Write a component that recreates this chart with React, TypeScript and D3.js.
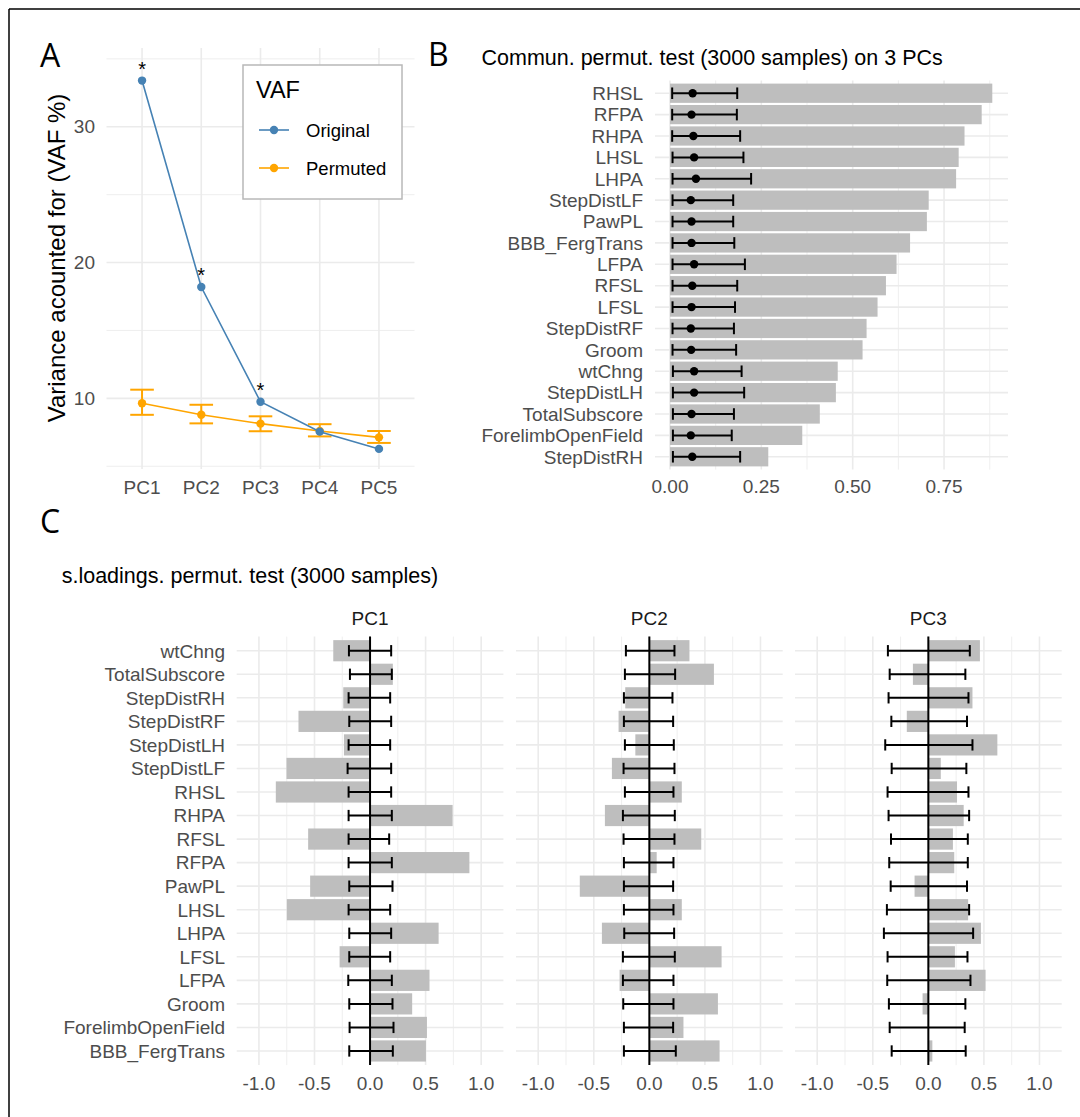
import React from "react";
import * as d3 from "d3";

// ---- panel A: variance accounted for ----
const pcs = ["PC1", "PC2", "PC3", "PC4", "PC5"];
const vafOriginal = [33.4, 18.2, 9.75, 7.55, 6.28];
const vafPermuted = [9.64, 8.8, 8.14, 7.6, 7.13];
const vafPermLow = [8.79, 8.16, 7.58, 7.2, 6.72];
const vafPermHigh = [10.64, 9.53, 8.68, 8.1, 7.6];
const vafSignif = [true, true, true, false, false];
const vafMajor = [10, 20, 30];
const vafMinor = [5, 15, 25, 35];

// ---- panel B: communalities ----
const commVars = [
  "RHSL", "RFPA", "RHPA", "LHSL", "LHPA", "StepDistLF", "PawPL", "BBB_FergTrans", "LFPA",
  "RFSL", "LFSL", "StepDistRF", "Groom", "wtChng", "StepDistLH", "TotalSubscore",
  "ForelimbOpenField", "StepDistRH",
];
const commObserved = [0.882, 0.853, 0.806, 0.79, 0.783, 0.708, 0.703, 0.657, 0.62, 0.591, 0.568, 0.538, 0.527, 0.459, 0.454, 0.41, 0.362, 0.269];
const commPermMean = [0.062, 0.059, 0.064, 0.066, 0.071, 0.057, 0.059, 0.059, 0.066, 0.061, 0.059, 0.057, 0.058, 0.066, 0.066, 0.059, 0.057, 0.061];
const commPermLow = [0.006, 0.006, 0.006, 0.007, 0.007, 0.007, 0.007, 0.007, 0.007, 0.007, 0.007, 0.007, 0.007, 0.008, 0.008, 0.008, 0.008, 0.008];
const commPermHigh = [0.184, 0.183, 0.192, 0.201, 0.222, 0.173, 0.173, 0.176, 0.205, 0.184, 0.178, 0.175, 0.181, 0.196, 0.203, 0.175, 0.169, 0.192];
const commMajor = [0, 0.25, 0.5, 0.75];
const commMinor = [0.125, 0.375, 0.625, 0.875];

// ---- panel C: loadings ----
const loadVars = [
  "wtChng", "TotalSubscore", "StepDistRH", "StepDistRF", "StepDistLH", "StepDistLF", "RHSL",
  "RHPA", "RFSL", "RFPA", "PawPL", "LHSL", "LHPA", "LFSL", "LFPA", "Groom",
  "ForelimbOpenField", "BBB_FergTrans",
];
const pc1Load = [-0.331, 0.205, -0.241, -0.644, -0.235, -0.752, -0.848, 0.743, -0.557, 0.894, -0.539, -0.749, 0.617, -0.274, 0.535, 0.379, 0.512, 0.503];
const pc1Low = [-0.19, -0.181, -0.193, -0.187, -0.193, -0.202, -0.193, -0.193, -0.193, -0.193, -0.187, -0.193, -0.187, -0.187, -0.196, -0.187, -0.184, -0.187];
const pc1High = [0.19, 0.196, 0.181, 0.19, 0.181, 0.19, 0.19, 0.196, 0.172, 0.196, 0.202, 0.181, 0.19, 0.181, 0.196, 0.202, 0.211, 0.205];
const pc2Load = [0.361, 0.581, -0.217, -0.277, -0.126, -0.337, 0.292, -0.4, 0.467, 0.066, -0.626, 0.292, -0.427, 0.65, -0.268, 0.617, 0.307, 0.632];
const pc2Low = [-0.211, -0.22, -0.229, -0.229, -0.22, -0.232, -0.22, -0.238, -0.232, -0.229, -0.229, -0.229, -0.226, -0.238, -0.238, -0.235, -0.229, -0.229];
const pc2High = [0.226, 0.232, 0.208, 0.214, 0.22, 0.226, 0.217, 0.229, 0.226, 0.217, 0.214, 0.217, 0.223, 0.229, 0.217, 0.217, 0.214, 0.238];
const pc3Load = [0.464, -0.139, 0.397, -0.194, 0.621, 0.112, 0.258, 0.318, 0.221, 0.233, -0.124, 0.358, 0.473, 0.239, 0.515, -0.052, 0.004, 0.036];
const pc3Low = [-0.364, -0.348, -0.358, -0.333, -0.388, -0.33, -0.367, -0.358, -0.336, -0.352, -0.339, -0.373, -0.4, -0.367, -0.37, -0.355, -0.348, -0.33];
const pc3High = [0.373, 0.333, 0.361, 0.348, 0.397, 0.342, 0.361, 0.367, 0.355, 0.355, 0.348, 0.367, 0.403, 0.352, 0.379, 0.333, 0.327, 0.336];
const facets = [
  { name: "PC1", load: pc1Load, low: pc1Low, high: pc1High },
  { name: "PC2", load: pc2Load, low: pc2Low, high: pc2High },
  { name: "PC3", load: pc3Load, low: pc3Low, high: pc3High },
];
const loadMajor = [-1, -0.5, 0, 0.5, 1];
const loadMinor = [-0.75, -0.25, 0.25, 0.75];

const FONT = "'Liberation Sans', Arial, sans-serif";
const GRID = "#EBEBEB";
const TICK = "#4D4D4D";
const BAR = "#BEBEBE";

const PanelA = () => {
  const x = d3.scalePoint().domain(pcs).range([106.5, 414.5]).padding(0.6);
  const y = d3.scaleLinear().domain([4.8, 35.8]).range([469, 48]);
  const [x0, x1] = x.range();
  const line = d3.line<number>().x((d, i) => x(pcs[i])!).y(d => y(d));
  const cap = 11.8;
  return (
    <g>
      {vafMinor.map(v => (
        <line key={"mi" + v} x1={x0} x2={x1} y1={y(v)} y2={y(v)} stroke={GRID} strokeWidth={0.8} />
      ))}
      {vafMajor.map(v => (
        <line key={"ma" + v} x1={x0} x2={x1} y1={y(v)} y2={y(v)} stroke={GRID} strokeWidth={1.6} />
      ))}
      {pcs.map(p => (
        <line key={p} x1={x(p)} x2={x(p)} y1={y.range()[1]} y2={y.range()[0]} stroke={GRID} strokeWidth={1.6} />
      ))}
      {vafMajor.map(v => (
        <text key={"t" + v} x={95} y={y(v) + 6.5} textAnchor="end" fontSize={19} fill={TICK}>{v}</text>
      ))}
      {pcs.map(p => (
        <text key={"xt" + p} x={x(p)} y={494} textAnchor="middle" fontSize={19} fill={TICK}>{p}</text>
      ))}
      <text transform="translate(65,258) rotate(-90)" textAnchor="middle" fontSize={24} fill="#000">
        Variance acounted for (VAF %)
      </text>
      {/* permuted */}
      {pcs.map((p, i) => (
        <g key={"eb" + p} stroke="#FFA500" strokeWidth={2}>
          <line x1={x(p)} x2={x(p)} y1={y(vafPermLow[i])} y2={y(vafPermHigh[i])} />
          <line x1={x(p)! - cap} x2={x(p)! + cap} y1={y(vafPermLow[i])} y2={y(vafPermLow[i])} />
          <line x1={x(p)! - cap} x2={x(p)! + cap} y1={y(vafPermHigh[i])} y2={y(vafPermHigh[i])} />
        </g>
      ))}
      <path d={line(vafPermuted)!} fill="none" stroke="#FFA500" strokeWidth={1.6} />
      {pcs.map((p, i) => (
        <circle key={"pp" + p} cx={x(p)} cy={y(vafPermuted[i])} r={4.2} fill="#FFA500" />
      ))}
      {/* original */}
      <path d={line(vafOriginal)!} fill="none" stroke="#4682B4" strokeWidth={1.6} />
      {pcs.map((p, i) => (
        <circle key={"po" + p} cx={x(p)} cy={y(vafOriginal[i])} r={4.2} fill="#4682B4" />
      ))}
      {pcs.map((p, i) =>
        vafSignif[i] ? (
          <text key={"s" + p} x={x(p)} y={y(vafOriginal[i]) - 5} textAnchor="middle" fontSize={20} fill="#000">*</text>
        ) : null
      )}
      {/* legend */}
      <rect x={243} y={65} width={159} height={134} fill="#fff" stroke="#B8B8B8" strokeWidth={1.5} />
      <text x={256} y={98} fontSize={23.5} fill="#000">VAF</text>
      {[
        { label: "Original", color: "#4682B4", yy: 130 },
        { label: "Permuted", color: "#FFA500", yy: 168 },
      ].map(k => (
        <g key={k.label}>
          <line x1={259} x2={289} y1={k.yy} y2={k.yy} stroke={k.color} strokeWidth={1.6} />
          <circle cx={274} cy={k.yy} r={4.2} fill={k.color} />
          <text x={306} y={k.yy + 7} fontSize={18.5} fill="#000">{k.label}</text>
        </g>
      ))}
    </g>
  );
};

const PanelB = () => {
  const x = d3.scaleLinear().domain([-0.041, 0.925]).range([655, 1008]);
  const y = d3.scalePoint().domain(commVars).range([80.4, 469.6]).padding(0.6);
  const bh = y.step() * 0.9;
  const cap = y.step() * 0.27;
  const [yt, yb] = [80.4, 469.6];
  return (
    <g>
      {commMinor.map(v => (
        <line key={"mi" + v} x1={x(v)} x2={x(v)} y1={yt} y2={yb} stroke={GRID} strokeWidth={0.8} />
      ))}
      {commMajor.map(v => (
        <line key={"ma" + v} x1={x(v)} x2={x(v)} y1={yt} y2={yb} stroke={GRID} strokeWidth={1.6} />
      ))}
      {commVars.map(c => (
        <line key={"h" + c} x1={655} x2={1008} y1={y(c)} y2={y(c)} stroke={GRID} strokeWidth={1.6} />
      ))}
      {commVars.map((c, i) => (
        <rect key={"b" + c} x={x(0)} y={y(c)! - bh / 2} width={x(commObserved[i]) - x(0)} height={bh} fill={BAR} />
      ))}
      {commVars.map((c, i) => (
        <g key={"e" + c} stroke="#000" strokeWidth={2}>
          <line x1={x(commPermLow[i])} x2={x(commPermHigh[i])} y1={y(c)} y2={y(c)} />
          <line x1={x(commPermLow[i])} x2={x(commPermLow[i])} y1={y(c)! - cap} y2={y(c)! + cap} />
          <line x1={x(commPermHigh[i])} x2={x(commPermHigh[i])} y1={y(c)! - cap} y2={y(c)! + cap} />
        </g>
      ))}
      {commVars.map((c, i) => (
        <circle key={"p" + c} cx={x(commPermMean[i])} cy={y(c)} r={4.2} fill="#000" />
      ))}
      {commVars.map(c => (
        <text key={"t" + c} x={643} y={y(c)! + 6.8} textAnchor="end" fontSize={19} fill={TICK}>{c}</text>
      ))}
      {commMajor.map(v => (
        <text key={"xt" + v} x={x(v)} y={492.5} textAnchor="middle" fontSize={19} fill={TICK}>{d3.format(".2f")(v)}</text>
      ))}
      <text x={481.5} y={65} fontSize={21.5} fill="#000">Commun. permut. test (3000 samples) on 3 PCs</text>
    </g>
  );
};

const PanelC = () => {
  const y = d3.scalePoint().domain(loadVars).range([636.6, 1065.1]).padding(0.6);
  const bh = y.step() * 0.9;
  const cap = y.step() * 0.24;
  const [yt, yb] = [636.6, 1065.1];
  const panelX = [236.7, 516, 795];
  const pw = 266.7;
  return (
    <g>
      <text x={61.7} y={583} fontSize={21.5} fill="#000">s.loadings. permut. test (3000 samples)</text>
      {loadVars.map(c => (
        <text key={"t" + c} x={225} y={y(c)! + 6.8} textAnchor="end" fontSize={19} fill={TICK}>{c}</text>
      ))}
      {facets.map((f, k) => {
        const x = d3.scaleLinear().domain([-1.2, 1.2]).range([panelX[k], panelX[k] + pw]);
        return (
          <g key={f.name}>
            <text x={panelX[k] + pw / 2} y={625} textAnchor="middle" fontSize={19} fill="#1A1A1A">{f.name}</text>
            {loadMinor.map(v => (
              <line key={"mi" + v} x1={x(v)} x2={x(v)} y1={yt} y2={yb} stroke={GRID} strokeWidth={0.8} />
            ))}
            {loadMajor.map(v => (
              <line key={"ma" + v} x1={x(v)} x2={x(v)} y1={yt} y2={yb} stroke={GRID} strokeWidth={1.6} />
            ))}
            {loadVars.map(c => (
              <line key={"h" + c} x1={panelX[k]} x2={panelX[k] + pw} y1={y(c)} y2={y(c)} stroke={GRID} strokeWidth={1.6} />
            ))}
            {loadVars.map((c, i) => (
              <rect
                key={"b" + c}
                x={Math.min(x(0), x(f.load[i]))}
                y={y(c)! - bh / 2}
                width={Math.abs(x(f.load[i]) - x(0))}
                height={bh}
                fill={BAR}
              />
            ))}
            {loadVars.map((c, i) => (
              <g key={"e" + c} stroke="#000" strokeWidth={2}>
                <line x1={x(f.low[i])} x2={x(f.high[i])} y1={y(c)} y2={y(c)} />
                <line x1={x(f.low[i])} x2={x(f.low[i])} y1={y(c)! - cap} y2={y(c)! + cap} />
                <line x1={x(f.high[i])} x2={x(f.high[i])} y1={y(c)! - cap} y2={y(c)! + cap} />
              </g>
            ))}
            <line x1={x(0)} x2={x(0)} y1={yt} y2={yb} stroke="#000" strokeWidth={2} />
            {loadMajor.map(v => (
              <text key={"xt" + v} x={x(v)} y={1090} textAnchor="middle" fontSize={19} fill={TICK}>
                {d3.format(".1f")(v).replace("−", "-")}
              </text>
            ))}
          </g>
        );
      })}
    </g>
  );
};

const App = () => {
  return (
    <svg
      width={1080}
      height={1117}
      style={{ position: "absolute", left: 0, top: 0, background: "#fff" }}
      fontFamily={FONT}
    >
      <rect width={1080} height={1117} fill="#fff" />
      <line x1={9} x2={1080} y1={9} y2={9} stroke="#000" strokeWidth={1.5} />
      <line x1={9} x2={9} y1={9} y2={1117} stroke="#000" strokeWidth={1.5} />
      <PanelA />
      <PanelB />
      <PanelC />
      <g fontFamily="'Open Sans', 'DejaVu Sans', sans-serif" fontSize={32} fill="#000">
        <text x={40} y={67}>A</text>
        <text x={428} y={66}>B</text>
        <text x={40} y={533}>C</text>
      </g>
    </svg>
  );
};

export default App;
